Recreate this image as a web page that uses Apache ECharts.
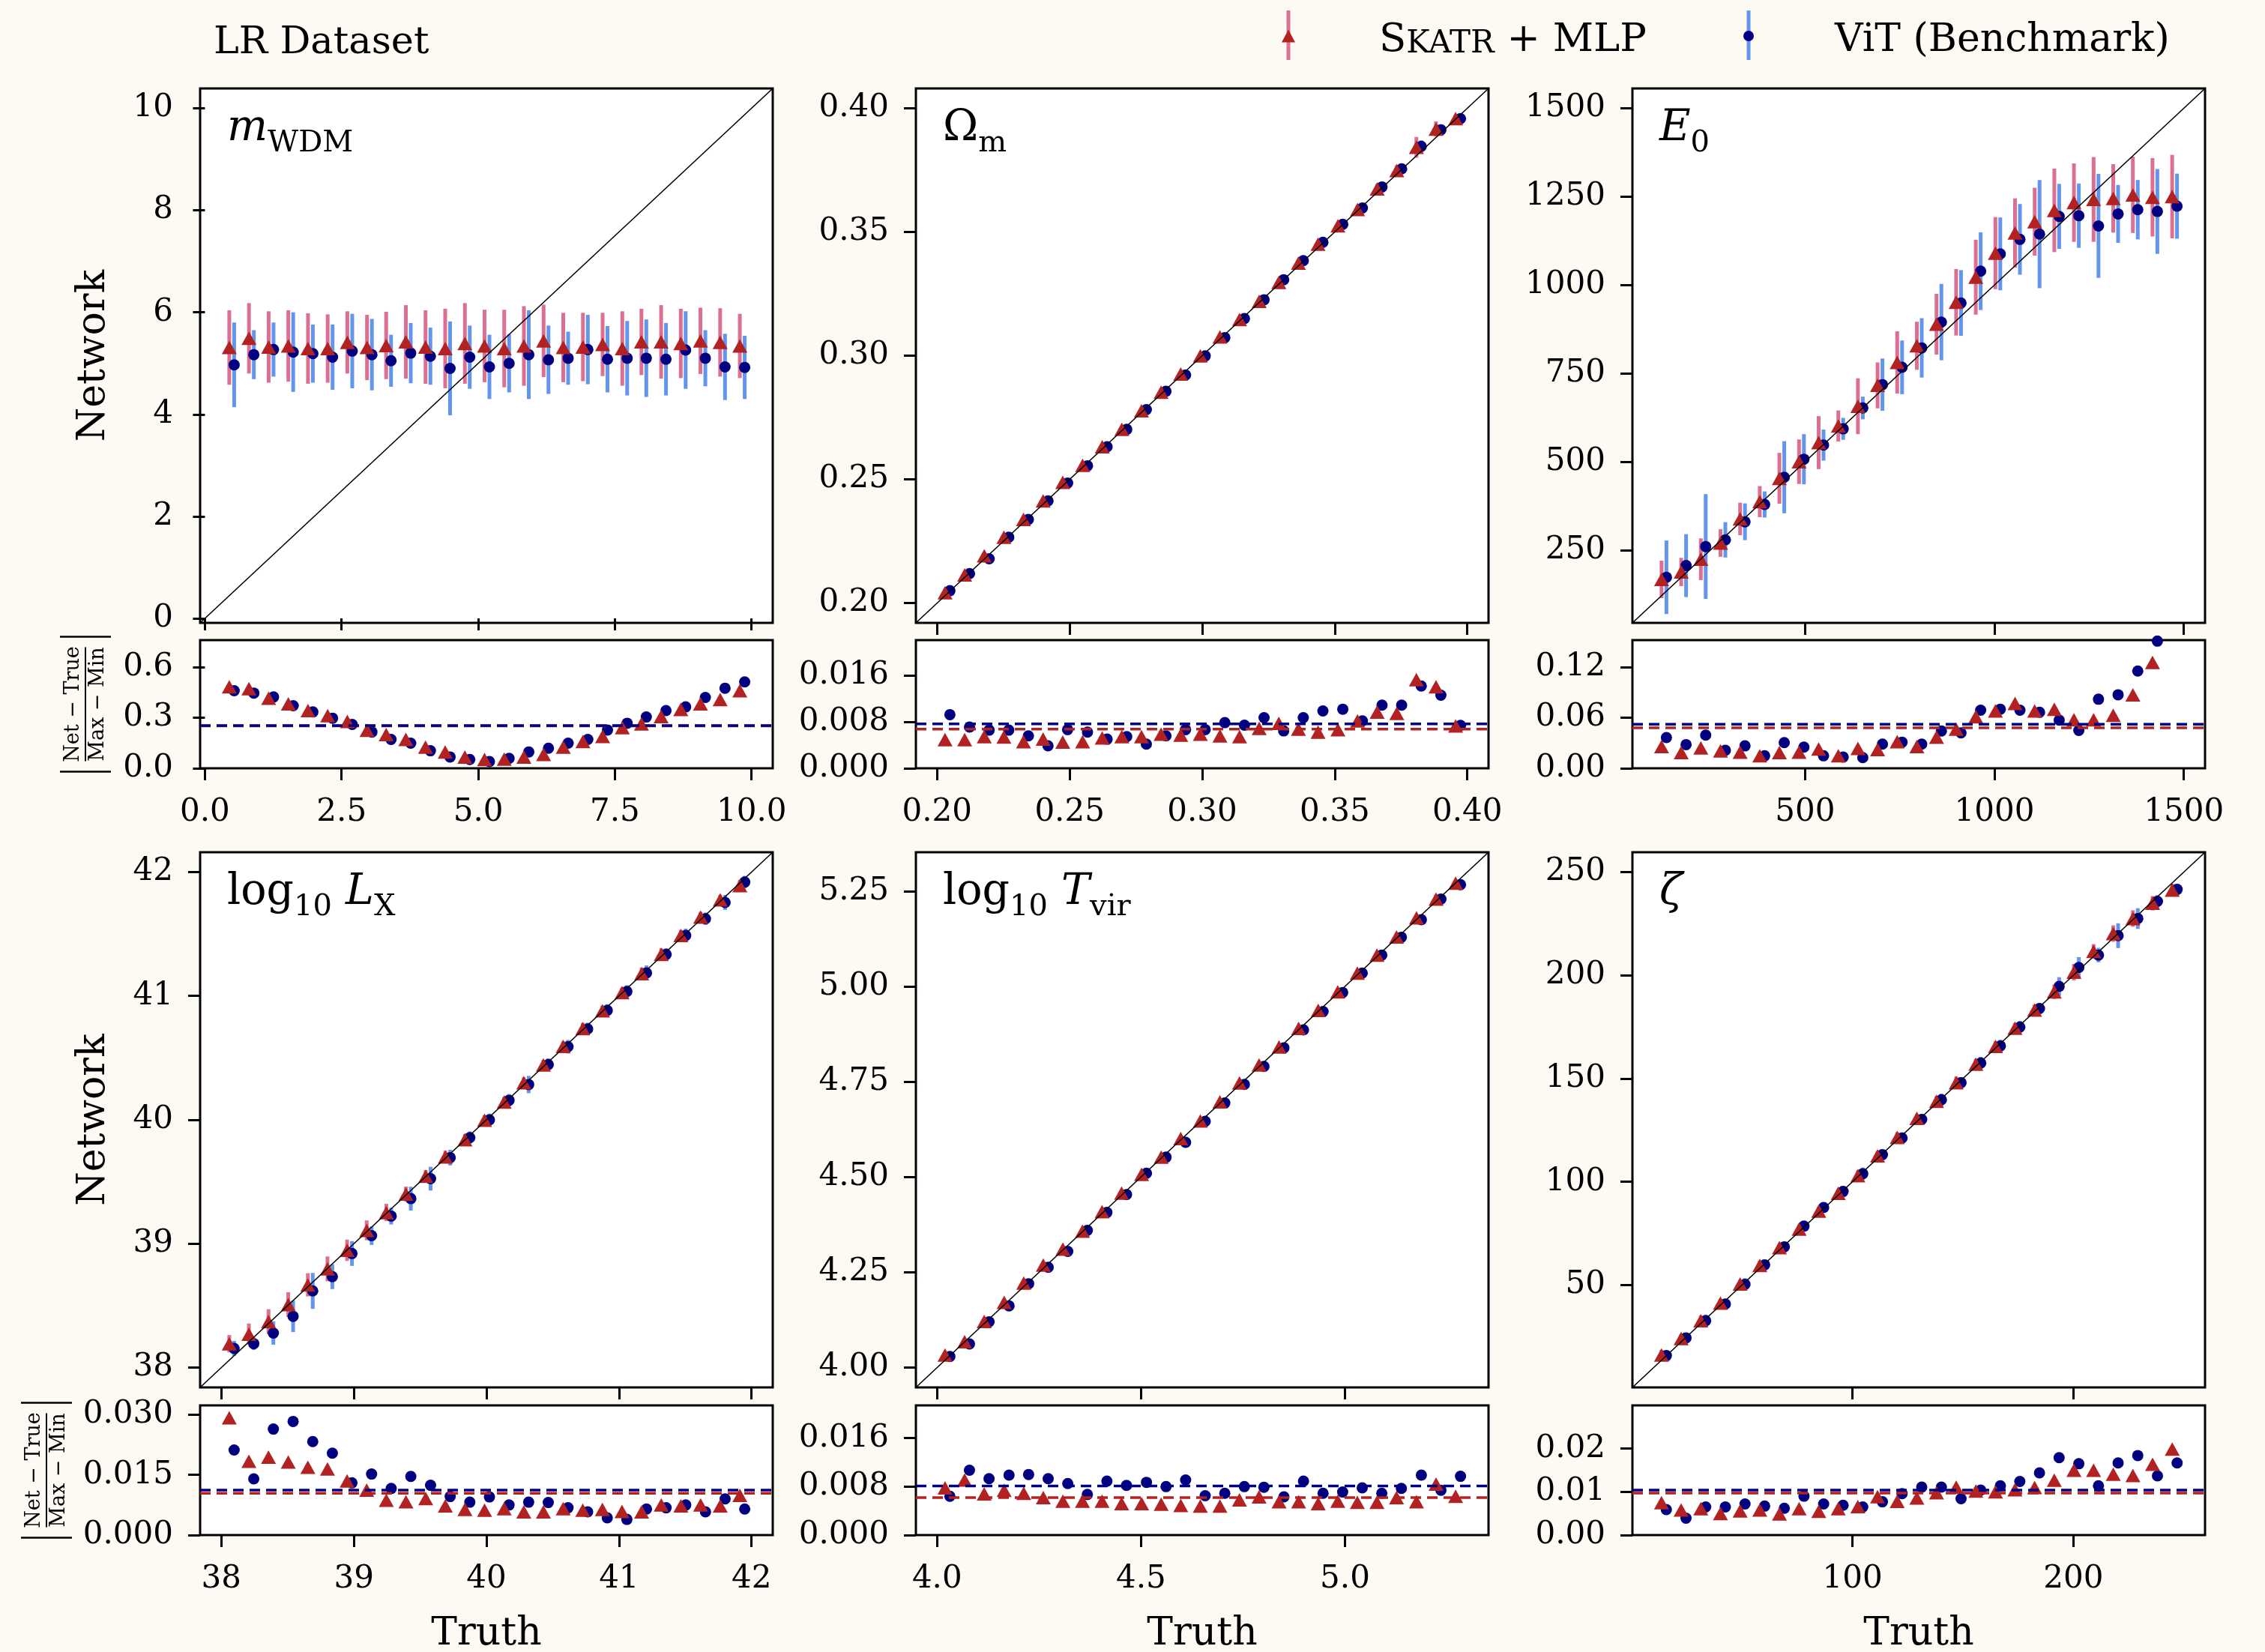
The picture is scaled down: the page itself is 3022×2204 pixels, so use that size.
<!DOCTYPE html>
<html>
<head>
<meta charset="utf-8">
<script src="https://cdn.jsdelivr.net/npm/echarts@6/dist/echarts.min.js"></script>
<style>
  html, body { margin: 0; padding: 0; background: #fdfaf4; }
  #chart { width: 3022px; height: 2204px; }
</style>
</head>
<body>
<div id="chart"></div>
<script>
// ---------------- m_WDM ----------------
const mwdmTruth = [0.48,0.84,1.20,1.56,1.92,2.28,2.64,3.00,3.35,3.71,4.07,4.43,4.79,5.15,5.51,5.87,6.23,6.59,6.95,7.31,7.67,8.02,8.38,8.74,9.10,9.46,9.82];
const mwdmSkatr = [5.31,5.49,5.32,5.34,5.29,5.29,5.41,5.31,5.35,5.42,5.32,5.29,5.39,5.34,5.29,5.34,5.44,5.31,5.32,5.37,5.29,5.42,5.42,5.39,5.44,5.41,5.34];
const mwdmSkatrErr = [0.73,0.69,0.70,0.70,0.69,0.67,0.61,0.64,0.66,0.72,0.72,0.78,0.79,0.71,0.76,0.78,0.71,0.68,0.67,0.62,0.73,0.65,0.72,0.68,0.65,0.67,0.63];
const mwdmVit = [4.97,5.17,5.27,5.22,5.19,5.12,5.24,5.17,5.05,5.20,5.14,4.90,5.12,4.93,5.00,5.17,5.07,5.10,5.27,5.08,5.10,5.10,5.08,5.26,5.10,4.93,4.92];
const mwdmVitErr = [0.83,0.48,0.53,0.78,0.57,0.64,0.73,0.70,0.51,0.59,0.56,0.92,0.62,0.63,0.57,0.87,0.67,0.52,0.68,0.65,0.73,0.76,0.71,0.76,0.55,0.65,0.62];
const mwdmResSkatr = [0.483,0.472,0.416,0.382,0.342,0.312,0.278,0.226,0.200,0.171,0.126,0.097,0.067,0.052,0.055,0.067,0.082,0.126,0.159,0.189,0.241,0.263,0.307,0.349,0.382,0.408,0.460];
const mwdmResVit = [0.460,0.446,0.423,0.371,0.334,0.297,0.260,0.215,0.171,0.149,0.104,0.067,0.052,0.040,0.059,0.097,0.119,0.149,0.171,0.227,0.267,0.304,0.342,0.364,0.420,0.475,0.512];
const mwdmResMean = [0.251, 0.253];          // [SKATR, ViT]
const mwdmLim = [-0.088, 10.388];
const mwdmResMax = 0.76;
const mwdmYTicks = [0, 2, 4, 6, 8, 10];
const mwdmXTicks = [0, 2.5, 5, 7.5, 10];
const mwdmResTicks = [0, 0.3, 0.6];

// ---------------- Omega_m ----------------
const omTruth = [0.2037,0.2111,0.2185,0.2259,0.2333,0.2407,0.2481,0.2556,0.2630,0.2704,0.2778,0.2852,0.2926,0.3000,0.3074,0.3148,0.3222,0.3296,0.3370,0.3444,0.3519,0.3593,0.3667,0.3741,0.3815,0.3889,0.3963];
const omSkatr = [0.2042,0.2114,0.2191,0.2266,0.2338,0.2413,0.2488,0.2557,0.2632,0.2702,0.2777,0.2852,0.2926,0.2999,0.3076,0.3146,0.3220,0.3296,0.3374,0.3451,0.3525,0.3591,0.3674,0.3748,0.3842,0.3916,0.3958];
const omSkatrErr = [0.0013,0.0011,0.0012,0.0010,0.0012,0.0011,0.0013,0.0012,0.0010,0.0011,0.0012,0.0013,0.0011,0.0012,0.0010,0.0012,0.0013,0.0014,0.0012,0.0015,0.0014,0.0016,0.0019,0.0021,0.0042,0.0031,0.0016];
const omVit = [0.2050,0.2119,0.2179,0.2266,0.2338,0.2413,0.2485,0.2555,0.2632,0.2702,0.2782,0.2856,0.2922,0.2999,0.3073,0.3150,0.3226,0.3307,0.3384,0.3458,0.3531,0.3597,0.3682,0.3755,0.3846,0.3913,0.3958];
const omVitErr = [0.0018,0.0016,0.0015,0.0017,0.0014,0.0015,0.0016,0.0014,0.0015,0.0016,0.0014,0.0017,0.0015,0.0016,0.0014,0.0017,0.0018,0.0016,0.0017,0.0019,0.0018,0.0017,0.0020,0.0019,0.0024,0.0022,0.0018];
const omResSkatr = [0.00495,0.00495,0.00546,0.00538,0.0046,0.00503,0.00452,0.0046,0.00525,0.00546,0.00546,0.00589,0.00572,0.00589,0.00559,0.00546,0.00688,0.00774,0.00675,0.00624,0.00667,0.00817,0.00968,0.00946,0.01527,0.01406,0.00731];
const omResVit = [0.00925,0.0071,0.00658,0.00658,0.00559,0.00387,0.00667,0.00624,0.00503,0.00546,0.00417,0.00559,0.00667,0.00667,0.00787,0.00744,0.00873,0.00645,0.00873,0.00989,0.01019,0.00817,0.01088,0.01088,0.01419,0.0126,0.0074];
const omResMean = [0.00675, 0.00765];
const omLim = [0.192, 0.408];
const omResMax = 0.0221;
const omYTicks = [0.20, 0.25, 0.30, 0.35, 0.40];
const omXTicks = [0.20, 0.25, 0.30, 0.35, 0.40];
const omResTicks = [0, 0.008, 0.016];

// ---------------- E_0 ----------------
const e0Truth = [125.9,177.8,229.6,281.5,333.3,385.2,437.0,488.9,540.7,592.6,644.4,696.3,748.1,800.0,851.9,903.7,955.6,1007.4,1059.3,1111.1,1163.0,1214.8,1266.7,1318.5,1370.4,1422.2,1474.1];
const e0Skatr = [167,188,224,270,338,387,453,500,554,601,657,716,781,828,889,951,1022,1090,1147,1179,1211,1233,1242,1245,1255,1248,1250];
const e0SkatrErr = [53,40,59,39,46,44,72,63,75,44,79,65,88,68,86,94,106,102,98,96,118,111,120,97,108,111,118];
const e0Vit = [173,206,260,279,330,379,456,507,547,593,652,718,767,822,895,949,1039,1088,1129,1144,1194,1196,1167,1201,1213,1208,1223];
const e0VitErr = [104,89,148,50,52,37,102,71,44,31,32,74,76,84,108,93,110,103,100,153,92,91,147,82,84,120,92];
const e0ResSkatr = [0.0257,0.0186,0.0242,0.0207,0.0192,0.0148,0.0186,0.0192,0.0228,0.0148,0.0236,0.0222,0.0316,0.0257,0.0370,0.0464,0.0612,0.0680,0.0769,0.0680,0.0701,0.0576,0.0576,0.0630,0.0872,0.1256,0.160];
const e0ResVit = [0.0364,0.0281,0.0393,0.0213,0.0266,0.0148,0.0304,0.0251,0.0148,0.0133,0.0127,0.0287,0.0310,0.0287,0.0443,0.0420,0.0689,0.0701,0.0689,0.0665,0.0571,0.0449,0.0819,0.0872,0.1153,0.1508,0.179];
const e0ResMean = [0.0479, 0.0523];
const e0Lim = [44, 1556];
const e0ResMax = 0.152;
const e0YTicks = [250, 500, 750, 1000, 1250, 1500];
const e0XTicks = [500, 1000, 1500];
const e0ResTicks = [0, 0.06, 0.12];

// ---------------- log10 L_X ----------------
const lxTruth = [38.074,38.222,38.370,38.519,38.667,38.815,38.963,39.111,39.259,39.407,39.556,39.704,39.852,40.000,40.148,40.296,40.444,40.593,40.741,40.889,41.037,41.185,41.333,41.481,41.630,41.778,41.926];
const lxSkatr = [38.193,38.270,38.371,38.509,38.668,38.797,38.947,39.108,39.252,39.401,39.545,39.701,39.839,39.997,40.144,40.299,40.443,40.593,40.737,40.881,41.027,41.180,41.335,41.488,41.637,41.776,41.891];
const lxSkatrErr = [0.07,0.086,0.10,0.10,0.094,0.10,0.086,0.08,0.07,0.06,0.05,0.05,0.045,0.04,0.04,0.045,0.04,0.04,0.045,0.04,0.04,0.05,0.05,0.045,0.04,0.04,0.045];
const lxVit = [38.155,38.193,38.279,38.414,38.619,38.734,38.921,39.065,39.223,39.364,39.525,39.695,39.856,40.000,40.158,40.285,40.446,40.590,40.734,40.883,41.036,41.186,41.335,41.488,41.623,41.755,41.919];
const lxVitErr = [0.06,0.05,0.094,0.127,0.145,0.10,0.10,0.075,0.068,0.096,0.096,0.063,0.05,0.05,0.05,0.07,0.05,0.055,0.05,0.05,0.05,0.06,0.05,0.055,0.05,0.06,0.05];
const lxResSkatr = [0.0292,0.0184,0.0194,0.0182,0.0169,0.0165,0.0135,0.0112,0.0087,0.0083,0.0091,0.0073,0.0064,0.0062,0.0066,0.0058,0.0058,0.0066,0.0062,0.0064,0.0059,0.0058,0.0075,0.0073,0.0075,0.0073,0.0099];
const lxResVit = [0.0212,0.0140,0.0264,0.0283,0.0233,0.0204,0.0130,0.0152,0.0116,0.0146,0.0124,0.0096,0.0082,0.0095,0.0075,0.0082,0.0081,0.0068,0.0058,0.0043,0.0039,0.0065,0.0068,0.0075,0.0058,0.0090,0.0065];
const lxResMean = [0.0104, 0.0112];
const lxLim = [37.84, 42.16];
const lxResMax = 0.0323;
const lxYTicks = [38, 39, 40, 41, 42];
const lxXTicks = [38, 39, 40, 41, 42];
const lxResTicks = [0, 0.015, 0.030];

// ---------------- log10 T_vir ----------------
const tvTruth = [4.024,4.072,4.120,4.169,4.217,4.265,4.313,4.361,4.409,4.457,4.506,4.554,4.602,4.650,4.698,4.746,4.794,4.843,4.891,4.939,4.987,5.035,5.083,5.131,5.180,5.228,5.276];
const tvSkatr = [4.033,4.068,4.121,4.171,4.222,4.269,4.311,4.358,4.409,4.458,4.507,4.552,4.601,4.647,4.697,4.747,4.794,4.841,4.890,4.937,4.986,5.035,5.082,5.130,5.180,5.229,5.271];
const tvSkatrErr = [0.008,0.009,0.008,0.008,0.007,0.008,0.007,0.007,0.008,0.007,0.007,0.007,0.007,0.006,0.007,0.007,0.008,0.007,0.007,0.007,0.007,0.007,0.007,0.008,0.007,0.012,0.008];
const tvVit = [4.029,4.062,4.120,4.162,4.220,4.263,4.305,4.360,4.407,4.454,4.510,4.552,4.591,4.646,4.694,4.743,4.790,4.839,4.886,4.934,4.984,5.035,5.082,5.129,5.175,5.229,5.267];
const tvVitErr = [0.010,0.014,0.012,0.012,0.011,0.012,0.011,0.010,0.012,0.011,0.011,0.010,0.012,0.009,0.010,0.011,0.010,0.009,0.011,0.010,0.010,0.011,0.010,0.011,0.013,0.012,0.012];
const tvResSkatr = [0.0078,0.0091,0.0068,0.0074,0.0069,0.0062,0.0056,0.0056,0.0056,0.0052,0.0052,0.0051,0.0049,0.0048,0.0048,0.0058,0.0063,0.0055,0.0055,0.0052,0.0056,0.0054,0.0054,0.0062,0.0055,0.0084,0.0064];
const tvResVit = [0.0064,0.0107,0.0093,0.0099,0.0100,0.0093,0.0085,0.0067,0.0089,0.0082,0.0087,0.0080,0.0091,0.0065,0.0069,0.0080,0.0079,0.0063,0.0089,0.0069,0.0071,0.0078,0.0069,0.0077,0.0099,0.0074,0.0097];
const tvResMean = [0.0062, 0.0081];
const tvLim = [3.948, 5.352];
const tvResMax = 0.0214;
const tvYTicks = [4.00, 4.25, 4.50, 4.75, 5.00, 5.25];
const tvXTicks = [4.0, 4.5, 5.0];
const tvResTicks = [0, 0.008, 0.016];

// ---------------- zeta ----------------
const zeTruth = [14.4,23.3,32.2,41.1,50.0,58.9,67.8,76.7,85.6,94.4,103.3,112.2,121.1,130.0,138.9,147.8,156.7,165.6,174.4,183.3,192.2,201.1,210.0,218.9,227.8,236.7,245.6];
const zeSkatr = [16.1,24.1,32.7,41.2,50.5,59.5,68.1,77.1,85.8,94.4,103.0,112.6,121.5,130.7,139.0,148.0,157.0,165.6,174.4,183.2,192.0,201.5,211.6,220.2,227.5,234.9,241.3];
const zeSkatrErr = [2.5,2.0,2.5,2.0,2.0,2.2,2.0,2.1,2.0,1.9,2.5,2.1,2.5,2.0,2.5,3.0,2.5,2.4,2.5,2.6,3.5,4.0,3.5,4.0,4.0,3.5,3.0];
const zeVit = [15.8,24.4,32.7,40.8,50.3,59.8,68.5,78.5,87.5,95.3,103.9,113.1,121.2,130.2,139.7,148.0,157.5,165.8,174.9,183.9,194.6,203.8,209.8,219.2,227.5,235.8,241.6];
const zeVitErr = [2.0,1.5,3.0,2.0,3.0,2.0,2.0,2.5,2.0,2.5,3.0,2.0,2.5,2.5,3.0,2.5,3.0,3.0,3.0,2.5,4.5,5.0,3.5,6.0,5.0,3.0,2.5];
const zeResSkatr = [0.0075,0.0058,0.0061,0.0050,0.0056,0.0058,0.0049,0.0061,0.0055,0.0061,0.0066,0.0089,0.0078,0.0086,0.0098,0.0111,0.0102,0.0100,0.0105,0.0110,0.0127,0.0150,0.0150,0.0141,0.0138,0.0164,0.0199];
const zeResVit = [0.0059,0.0039,0.0065,0.0065,0.0072,0.0067,0.0062,0.0090,0.0072,0.0069,0.0065,0.0077,0.0096,0.0111,0.0111,0.0084,0.0104,0.0114,0.0124,0.0144,0.0179,0.0165,0.0114,0.0167,0.0184,0.0137,0.0167];
const zeResMean = [0.0097, 0.0104];
const zeLim = [0.4, 259.6];
const zeResMax = 0.030;
const zeYTicks = [50, 100, 150, 200, 250];
const zeXTicks = [100, 200];
const zeResTicks = [0, 0.01, 0.02];

// ---------------- text ----------------
const titleText = 'LR Dataset';
const legendNames = ['{a|S}{b|KATR}{a| + MLP}', 'ViT (Benchmark)'];
const yLabelMain = 'Network';
const xLabel = 'Truth';

// ---------------- panel table ----------------
const panels = [
  { label: '{i|m}{s|WDM}', truth: mwdmTruth, skatr: mwdmSkatr, skatrErr: mwdmSkatrErr, vit: mwdmVit, vitErr: mwdmVitErr,
    resSkatr: mwdmResSkatr, resVit: mwdmResVit, resMean: mwdmResMean, lim: mwdmLim, resMax: mwdmResMax,
    yTicks: mwdmYTicks, xTicks: mwdmXTicks, resTicks: mwdmResTicks, yDec: 0, xDec: 1, resDec: 1 },
  { label: '{r|Ω}{s|m}', truth: omTruth, skatr: omSkatr, skatrErr: omSkatrErr, vit: omVit, vitErr: omVitErr,
    resSkatr: omResSkatr, resVit: omResVit, resMean: omResMean, lim: omLim, resMax: omResMax,
    yTicks: omYTicks, xTicks: omXTicks, resTicks: omResTicks, yDec: 2, xDec: 2, resDec: 3 },
  { label: '{i|E}{s|0}', truth: e0Truth, skatr: e0Skatr, skatrErr: e0SkatrErr, vit: e0Vit, vitErr: e0VitErr,
    resSkatr: e0ResSkatr, resVit: e0ResVit, resMean: e0ResMean, lim: e0Lim, resMax: e0ResMax,
    yTicks: e0YTicks, xTicks: e0XTicks, resTicks: e0ResTicks, yDec: 0, xDec: 0, resDec: 2 },
  { label: '{r|log}{s|10}{r| }{i|L}{s|X}', truth: lxTruth, skatr: lxSkatr, skatrErr: lxSkatrErr, vit: lxVit, vitErr: lxVitErr,
    resSkatr: lxResSkatr, resVit: lxResVit, resMean: lxResMean, lim: lxLim, resMax: lxResMax,
    yTicks: lxYTicks, xTicks: lxXTicks, resTicks: lxResTicks, yDec: 0, xDec: 0, resDec: 3 },
  { label: '{r|log}{s|10}{r| }{i|T}{s|vir}', truth: tvTruth, skatr: tvSkatr, skatrErr: tvSkatrErr, vit: tvVit, vitErr: tvVitErr,
    resSkatr: tvResSkatr, resVit: tvResVit, resMean: tvResMean, lim: tvLim, resMax: tvResMax,
    yTicks: tvYTicks, xTicks: tvXTicks, resTicks: tvResTicks, yDec: 2, xDec: 1, resDec: 3 },
  { label: '{i|ζ}', truth: zeTruth, skatr: zeSkatr, skatrErr: zeSkatrErr, vit: zeVit, vitErr: zeVitErr,
    resSkatr: zeResSkatr, resVit: zeResVit, resMean: zeResMean, lim: zeLim, resMax: zeResMax,
    yTicks: zeYTicks, xTicks: zeXTicks, resTicks: zeResTicks, yDec: 0, xDec: 0, resDec: 2 }
];

// ---------------- layout & style ----------------
const FONT = 'DejaVu Serif';
const COL_LEFT = [267, 1222, 2178];
const COL_W = 764;
const ROWS = [
  { mainTop: 118, mainH: 713, resTop: 854, resH: 171, resLabelX: 114 },
  { mainTop: 1137, mainH: 714, resTop: 1875, resH: 173, resLabelX: 62 }
];
const SKATR_MARK = '#b22222', SKATR_BAR = '#db7093';
const VIT_MARK = '#000080', VIT_BAR = '#6495ed';
const SKATR_DX = -2.5, VIT_DX = 4;
const TICK_FONT = 42;

function makeAxis(gi, lim, ticks, dec, isX) {
  return {
    type: 'value', gridIndex: gi, min: lim[0], max: lim[1],
    axisLine: { show: false },
    splitLine: { show: false },
    axisTick: { show: true, inside: false, length: 16, customValues: ticks, lineStyle: { color: '#000', width: 3 } },
    axisLabel: dec == null ? { show: false } : {
      show: true, customValues: ticks, formatter: v => Number(v).toFixed(dec),
      fontFamily: FONT, fontSize: TICK_FONT, color: '#000', margin: isX ? 38 : 36
    }
  };
}

function errorBars(gi, xs, ys, es, color, dx) {
  return {
    type: 'custom', xAxisIndex: gi, yAxisIndex: gi, silent: true, clip: true,
    data: xs.map((x, k) => [x, ys[k], es[k]]),
    renderItem: (params, api) => {
      const x = api.value(0), y = api.value(1), e = api.value(2);
      const p1 = api.coord([x, y + e]);
      const p2 = api.coord([x, y - e]);
      return { type: 'line', shape: { x1: p1[0] + dx, y1: p1[1], x2: p2[0] + dx, y2: p2[1] },
               style: { stroke: color, lineWidth: 5 } };
    }
  };
}

function scatter(gi, xs, ys, isSkatr) {
  return {
    type: 'scatter', xAxisIndex: gi, yAxisIndex: gi, silent: true,
    data: xs.map((x, k) => [x, ys[k]]),
    symbol: isSkatr ? 'triangle' : 'circle',
    symbolSize: isSkatr ? [20, 18] : 15,
    symbolOffset: [isSkatr ? SKATR_DX : VIT_DX, 0],
    itemStyle: { color: isSkatr ? SKATR_MARK : VIT_MARK, opacity: 1 },
    emphasis: { disabled: true }
  };
}

function hLine(gi, lim, v, color, width, dash) {
  return {
    type: 'line', xAxisIndex: gi, yAxisIndex: gi, silent: true, symbol: 'none',
    data: [[lim[0], v], [lim[1], v]],
    lineStyle: { color, width, type: dash || 'solid' }
  };
}

const grids = [], xAxes = [], yAxes = [], series = [], graphics = [];

panels.forEach((p, i) => {
  const col = i % 3, row = ROWS[Math.floor(i / 3)];
  const left = COL_LEFT[col];
  const gm = grids.length, gr = gm + 1;
  const gridStyle = { show: true, backgroundColor: '#ffffff', borderColor: '#000', borderWidth: 3, containLabel: false, outerBoundsMode: 'none' };
  grids.push(Object.assign({ left, top: row.mainTop, width: COL_W, height: row.mainH }, gridStyle));
  grids.push(Object.assign({ left, top: row.resTop, width: COL_W, height: row.resH }, gridStyle));

  xAxes.push(makeAxis(gm, p.lim, p.xTicks, null, true));
  yAxes.push(makeAxis(gm, p.lim, p.yTicks, p.yDec, false));
  xAxes.push(makeAxis(gr, p.lim, p.xTicks, p.xDec, true));
  yAxes.push(makeAxis(gr, [0, p.resMax], p.resTicks, p.resDec, false));

  // main panel: identity line, then ViT, then SKATR on top
  series.push({
    type: 'line', xAxisIndex: gm, yAxisIndex: gm, silent: true, symbol: 'none',
    data: [[p.lim[0], p.lim[0]], [p.lim[1], p.lim[1]]],
    lineStyle: { color: '#000', width: 1.6 }
  });
  series.push(errorBars(gm, p.truth, p.vit, p.vitErr, VIT_BAR, VIT_DX));
  series.push(scatter(gm, p.truth, p.vit, false));
  series.push(errorBars(gm, p.truth, p.skatr, p.skatrErr, SKATR_BAR, SKATR_DX));
  series.push(scatter(gm, p.truth, p.skatr, true));

  // residual panel: mean lines then points
  series.push(hLine(gr, p.lim, p.resMean[0], SKATR_MARK, 3.5, [14, 8]));
  series.push(hLine(gr, p.lim, p.resMean[1], VIT_MARK, 3.5, [14, 8]));
  series.push(scatter(gr, p.truth, p.resVit, false));
  series.push(scatter(gr, p.truth, p.resSkatr, true));

  // parameter name inside the main panel
  graphics.push({
    type: 'text', x: left + 36, y: row.mainTop + 30, z: 100,
    style: {
      text: p.label, align: 'left', verticalAlign: 'top', fill: '#000',
      rich: {
        i: { fontFamily: FONT, fontStyle: 'italic', fontSize: 57, lineHeight: 64, padding: [0, 0, 11, 0], verticalAlign: 'bottom', fill: '#000' },
        r: { fontFamily: FONT, fontSize: 57, lineHeight: 64, padding: [0, 0, 11, 0], verticalAlign: 'bottom', fill: '#000' },
        s: { fontFamily: FONT, fontSize: 40, lineHeight: 44, verticalAlign: 'bottom', fill: '#000' }
      }
    }
  });
});

// y-axis titles
ROWS.forEach(row => {
  graphics.push({
    type: 'text', x: 125, y: row.mainTop + row.mainH / 2, rotation: Math.PI / 2, z: 100,
    style: { text: yLabelMain, fontFamily: FONT, fontSize: 52, fill: '#000', align: 'center', verticalAlign: 'middle' }
  });
  // |Net - True| / |Max - Min| fraction
  const cy = row.resTop + row.resH / 2;
  graphics.push({
    type: 'group', x: row.resLabelX, y: cy, rotation: Math.PI / 2, z: 100,
    children: [
      { type: 'text', x: 0, y: -16, style: { text: 'Net − True', fontFamily: FONT, fontSize: 27, fill: '#000', align: 'center', verticalAlign: 'middle' } },
      { type: 'line', shape: { x1: -76, y1: 0, x2: 76, y2: 0 }, style: { stroke: '#000', lineWidth: 2 } },
      { type: 'text', x: 0, y: 17, style: { text: 'Max − Min', fontFamily: FONT, fontSize: 27, fill: '#000', align: 'center', verticalAlign: 'middle' } },
      { type: 'line', shape: { x1: -90, y1: -34, x2: -90, y2: 34 }, style: { stroke: '#000', lineWidth: 2.5 } },
      { type: 'line', shape: { x1: 90, y1: -34, x2: 90, y2: 34 }, style: { stroke: '#000', lineWidth: 2.5 } }
    ]
  });
});

// x-axis titles under the bottom row
COL_LEFT.forEach(left => {
  graphics.push({
    type: 'text', x: left + COL_W / 2, y: 2180, z: 100,
    style: { text: xLabel, fontFamily: FONT, fontSize: 52, fill: '#000', align: 'center', verticalAlign: 'middle' }
  });
});

// dataset title
graphics.push({
  type: 'text', x: 285, y: 58, z: 100,
  style: { text: titleText, fontFamily: FONT, fontSize: 51, fill: '#000', align: 'left', verticalAlign: 'middle' }
});

// legend: error-bar glyphs plus names
const legY = 48;
graphics.push(
  { type: 'line', shape: { x1: 1719, y1: 14, x2: 1719, y2: 80 }, style: { stroke: SKATR_BAR, lineWidth: 5 }, z: 100 },
  { type: 'polygon', shape: { points: [[1719, 39.5], [1710, 56.5], [1728, 56.5]] }, style: { fill: SKATR_MARK }, z: 101 },
  { type: 'line', shape: { x1: 2333, y1: 14, x2: 2333, y2: 80 }, style: { stroke: VIT_BAR, lineWidth: 5 }, z: 100 },
  { type: 'circle', shape: { cx: 2333, cy: legY, r: 7 }, style: { fill: VIT_MARK }, z: 101 },
  { type: 'text', x: 1840, y: legY + 6, z: 100,
    style: { text: legendNames[0], align: 'left', verticalAlign: 'middle',
      rich: { a: { fontFamily: FONT, fontSize: 53, lineHeight: 53, verticalAlign: 'bottom', fill: '#000' },
              b: { fontFamily: FONT, fontSize: 42, lineHeight: 42, verticalAlign: 'bottom', fill: '#000' } } } },
  { type: 'text', x: 2448, y: legY + 6, z: 100,
    style: { text: legendNames[1], fontFamily: FONT, fontSize: 52, fill: '#000', align: 'left', verticalAlign: 'middle' } }
);

const chart = echarts.init(document.getElementById('chart'), null, { renderer: 'canvas', width: 3022, height: 2204 });
chart.setOption({
  animation: false,
  backgroundColor: '#fdfaf4',
  grid: grids,
  xAxis: xAxes,
  yAxis: yAxes,
  series: series,
  graphic: graphics
});
</script>
</body>
</html>
